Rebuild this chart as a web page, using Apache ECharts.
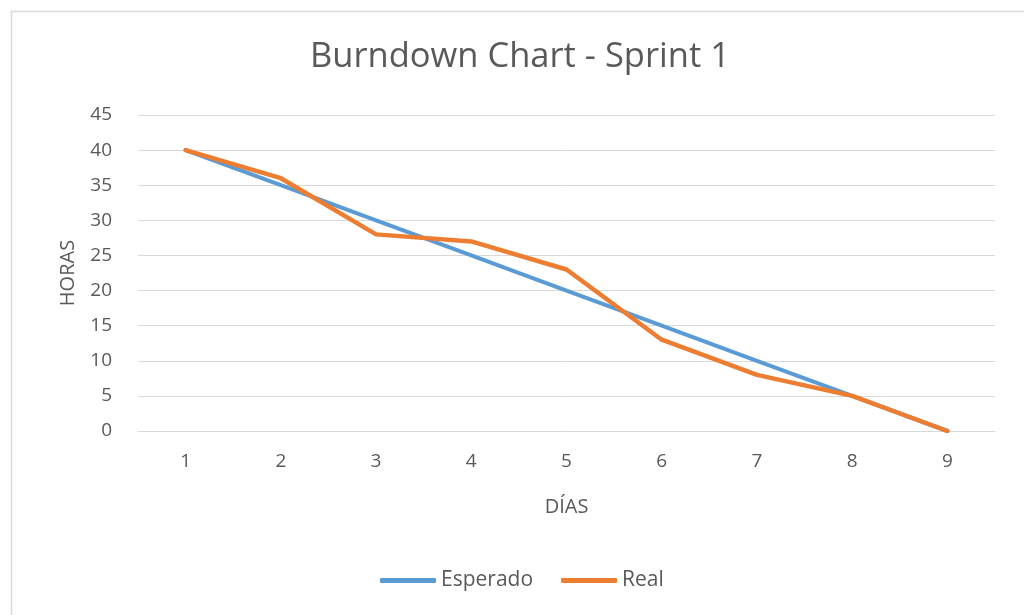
<!DOCTYPE html>
<html>
<head>
<meta charset="utf-8">
<script src="https://cdn.jsdelivr.net/npm/echarts@6/dist/echarts.min.js"></script>
<style>
  html, body { margin: 0; padding: 0; background: #fff; }
  #chart { width: 1024px; height: 615px; }
</style>
</head>
<body>
<div id="chart"></div>
<script>
const dias = ['1', '2', '3', '4', '5', '6', '7', '8', '9']
const esperado = [40, 35, 30, 25, 20, 15, 10, 5, 0]
const real = [40, 36, 28, 27, 23, 13, 8, 5, 0]

const textColor = '#595959'
const font = 'Open Sans'

const myChart = echarts.init(document.getElementById('chart'))
const option = {
  backgroundColor: '#fff',
  animation: false,
  graphic: [
    {
      type: 'rect',
      shape: { x: 11.5, y: 11.5, width: 1030, height: 620 },
      style: { fill: 'none', stroke: '#d9d9d9', lineWidth: 1.5 },
      silent: true,
    },
  ],
  title: {
    text: 'Burndown Chart - Sprint 1',
    left: 305,
    top: 35,
    textStyle: {
      color: textColor,
      fontFamily: font,
      fontWeight: 'normal',
      fontSize: 34.5,
    },
  },
  legend: {
    bottom: 19,
    left: 375,
    itemWidth: 56,
    itemHeight: 5,
    itemGap: 28,
    icon: 'roundRect',
    textStyle: { color: textColor, fontFamily: font, fontSize: 21 },
    data: ['Esperado', 'Real'],
  },
  grid: {
    left: 138,
    right: 29,
    top: 115,
    bottom: 184,
  },
  xAxis: {
    type: 'category',
    boundaryGap: true,
    data: dias,
    name: 'DÍAS',
    nameLocation: 'middle',
    nameGap: 66,
    nameTextStyle: { color: textColor, fontFamily: font, fontSize: 20 },
    axisLine: { lineStyle: { color: '#d9d9d9' } },
    axisTick: { show: false },
    axisLabel: { color: textColor, fontFamily: font, fontSize: 19, margin: 21 },
  },
  yAxis: {
    type: 'value',
    min: 0,
    max: 45,
    interval: 5,
    name: 'HORAS',
    nameLocation: 'middle',
    nameGap: 60,
    nameTextStyle: { color: textColor, fontFamily: font, fontSize: 20 },
    axisLine: { show: false },
    axisTick: { show: false },
    axisLabel: { color: textColor, fontFamily: font, fontSize: 19, margin: 26 },
    splitLine: { lineStyle: { color: '#d9d9d9', width: 1 } },
  },
  series: [
    {
      name: 'Esperado',
      type: 'line',
      data: esperado,
      symbol: 'none',
      color: '#5B9BD5',
      lineStyle: { color: '#5B9BD5', width: 4, cap: 'round', join: 'round' },
    },
    {
      name: 'Real',
      type: 'line',
      data: real,
      symbol: 'none',
      color: '#ED7D31',
      lineStyle: { color: '#ED7D31', width: 4.5, cap: 'round', join: 'round' },
    },
  ],
}
myChart.setOption(option)
</script>
</body>
</html>
